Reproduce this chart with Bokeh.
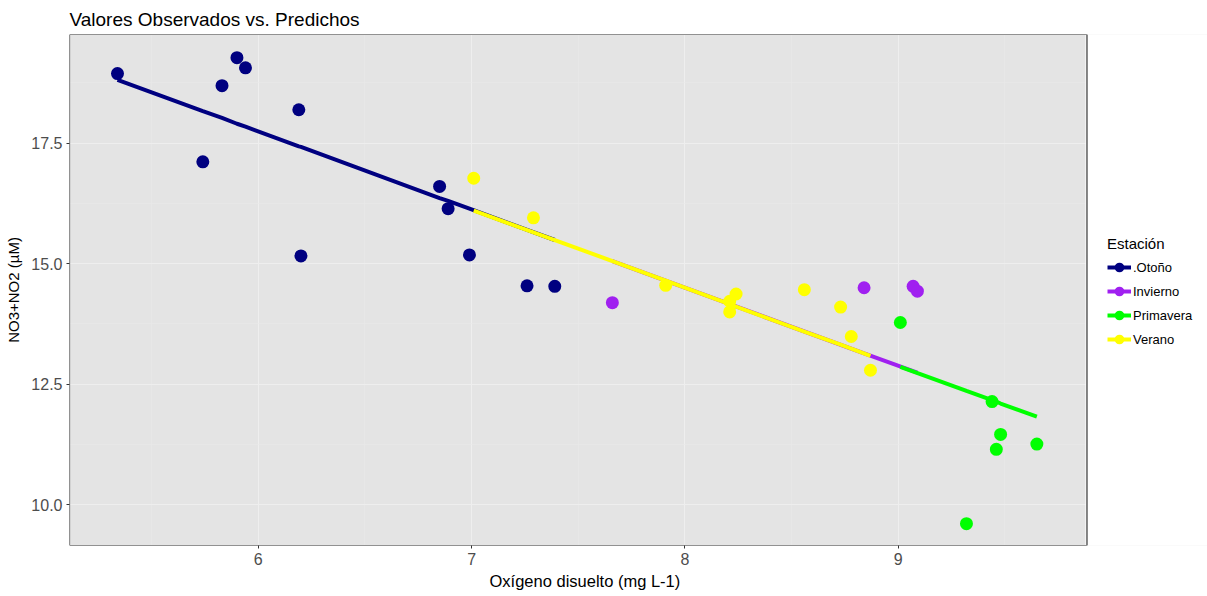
from bokeh.plotting import figure
from bokeh.models import (FixedTicker, PrintfTickFormatter, Legend, LegendItem, Range1d,
                          BoxAnnotation, Title)
from bokeh.embed import file_html
from bokeh.resources import INLINE

FONT = "Liberation Sans"

seasons = [".Otoño", "Invierno", "Primavera", "Verano"]
season_colors = ["#000080", "#A020F0", "#00FF00", "#FFFF00"]

otono_x = [5.34, 5.74, 5.83, 5.90, 5.94, 6.19, 6.20, 6.85, 6.89, 6.99, 7.26, 7.39]
otono_obs = [18.94, 17.11, 18.69, 19.27, 19.06, 18.19, 15.16, 16.60, 16.14, 15.18, 14.54, 14.53]
otono_pred = [18.81, 18.16, 18.02, 17.90, 17.84, 17.43, 17.42, 16.36, 16.30, 16.14, 15.70, 15.49]

invierno_x = [7.66, 8.84, 9.07, 9.09]
invierno_obs = [14.19, 14.50, 14.53, 14.43]
invierno_pred = [15.05, 13.14, 12.77, 12.74]

primavera_x = [9.01, 9.32, 9.44, 9.46, 9.48, 9.65]
primavera_obs = [13.78, 9.61, 12.14, 11.15, 11.46, 11.26]
primavera_pred = [12.86, 12.36, 12.17, 12.14, 12.10, 11.83]

verano_x = [7.01, 7.29, 7.91, 8.21, 8.21, 8.24, 8.56, 8.73, 8.78, 8.87]
verano_obs = [16.77, 15.95, 14.55, 14.00, 14.22, 14.37, 14.46, 14.10, 13.49, 12.79]
verano_pred = [16.10, 15.65, 14.65, 14.16, 14.16, 14.11, 13.59, 13.32, 13.24, 13.09]

x_ticks = [6, 7, 8, 9]
x_minor = [5.5, 6.5, 7.5, 8.5, 9.5]
y_ticks = [10.0, 12.5, 15.0, 17.5]
y_minor = [11.25, 13.75, 16.25, 18.75]

# panel (data) limits
x_lo, x_hi = 5.115, 9.885
y_lo, y_hi = 9.157, 19.75

series = [
    (otono_x, otono_obs, otono_pred),
    (invierno_x, invierno_obs, invierno_pred),
    (primavera_x, primavera_obs, primavera_pred),
    (verano_x, verano_obs, verano_pred),
]

# the frame runs on to the right edge so the legend can live inside it;
# the part right of the panel is painted white
p = figure(frame_width=1138, frame_height=511, output_backend="svg", toolbar_location=None,
           x_range=Range1d(x_lo, 10.450), y_range=Range1d(y_lo, y_hi),
           min_border_left=69, min_border_right=0, min_border_top=34, min_border_bottom=51,
           background_fill_color="#E4E4E4", border_fill_color="white",
           title="Valores Observados vs. Predichos")

p.title.text_font = FONT
p.title.text_font_size = "19px"
p.title.text_font_style = "normal"
p.title.text_color = "black"
p.title.align = "left"
p.title.offset = 0
p.title.standoff = 9

p.outline_line_color = None

p.xaxis.ticker = FixedTicker(ticks=x_ticks, minor_ticks=x_minor)
p.yaxis.ticker = FixedTicker(ticks=y_ticks, minor_ticks=y_minor)
p.yaxis.formatter = PrintfTickFormatter(format="%.1f")

for ax in (p.xaxis, p.yaxis):
    ax.axis_line_color = None
    ax.major_tick_line_color = "#333333"
    ax.major_tick_in = 0
    ax.major_tick_out = 3
    ax.minor_tick_line_color = None
    ax.major_label_text_font = FONT
    ax.major_label_text_font_size = "16px"
    ax.major_label_text_color = "#4D4D4D"
    ax.major_label_standoff = 3
    ax.axis_label_text_font = FONT
    ax.axis_label_text_font_style = "normal"
    ax.axis_label_text_color = "black"

p.yaxis.axis_label = "NO3+NO2 (µM)"
p.yaxis.axis_label_text_font_size = "15px"
p.yaxis.axis_label_standoff = 6

xlabel = Title(text="Oxígeno disuelto (mg L-1)", align="left", offset=420,
               text_font=FONT, text_font_size="16.5px", text_font_style="normal",
               text_color="black", standoff=4)
p.add_layout(xlabel, "below")

p.grid.grid_line_color = "#EEEEEE"
p.grid.grid_line_width = 1
p.grid.minor_grid_line_color = "#EAEAEA"
p.grid.minor_grid_line_width = 0.6

blank = BoxAnnotation(left=x_hi, fill_color="white", fill_alpha=1,
                      line_color="white", line_alpha=1, line_width=3,
                      level="underlay")
p.add_layout(blank)
panel_border = BoxAnnotation(left=x_lo, right=x_hi, bottom=y_lo, top=y_hi,
                             fill_alpha=0, line_color="#333333", line_alpha=1,
                             line_width=1.2, level="underlay")
p.add_layout(panel_border)

line_renderers = []
for (xs, obs, pred), col in zip(series, season_colors):
    lr = p.line(xs, pred, line_color=col, line_width=4)
    line_renderers.append(lr)

point_renderers = []
for (xs, obs, pred), col in zip(series, season_colors):
    pr = p.scatter(xs, obs, marker="circle", size=13, fill_color=col, line_color=col, line_width=0)
    point_renderers.append(pr)

items = [LegendItem(label=s, renderers=[lr, pr])
         for s, lr, pr in zip(seasons, line_renderers, point_renderers)]
legend = Legend(items=items, location=(1038, 194),
                title="Estación", title_text_font=FONT, title_text_font_size="15px",
                title_text_font_style="normal", title_text_color="black", title_standoff=3,
                label_text_font=FONT, label_text_font_size="13px", label_text_color="black",
                label_height=24, glyph_height=24, glyph_width=24, spacing=0,
                label_standoff=2, padding=0, margin=0,
                background_fill_alpha=0, border_line_color=None)
p.add_layout(legend, "center")

open("out.html", "w").write(file_html(p, INLINE))
